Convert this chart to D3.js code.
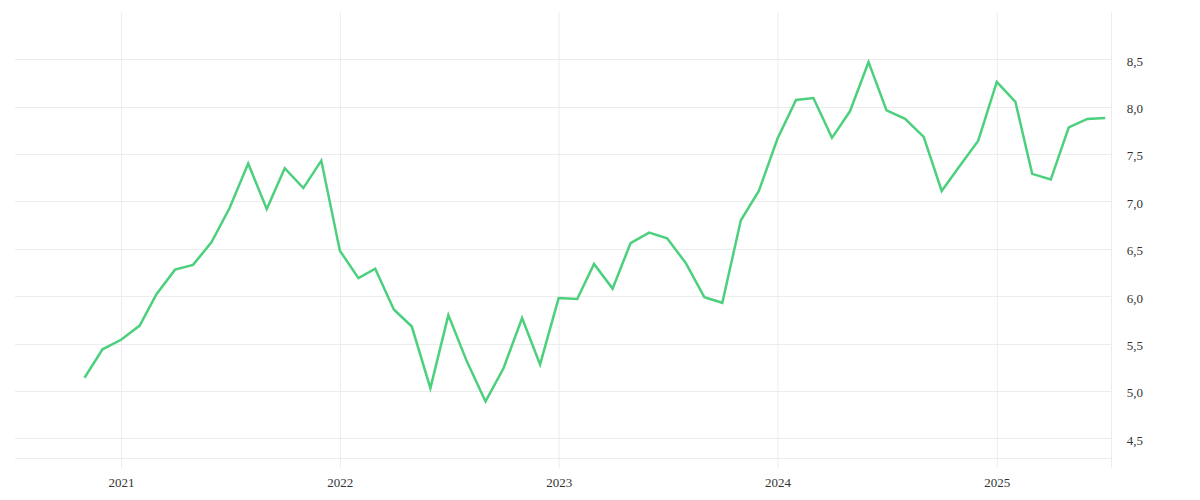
<!DOCTYPE html>
<html><head><meta charset="utf-8">
<script src="https://cdn.jsdelivr.net/npm/d3@7"></script>
<style>html,body{margin:0;padding:0;background:#fff;}svg{display:block;}</style>
</head><body>
<svg id="chart" width="1200" height="500"></svg>
<script>
const startMonth = "2020-11";
const values = [
  5.14, 5.44, 5.54, 5.69, 6.02, 6.28, 6.33, 6.57, 6.93, 7.40, 6.92, 7.35, 7.14, 7.43,
  6.48, 6.19, 6.29, 5.86, 5.68, 5.03, 5.80, 5.31, 4.89, 5.24, 5.77, 5.28,
  5.98, 5.97, 6.34, 6.08, 6.56, 6.67, 6.61, 6.35, 5.99, 5.93, 6.80, 7.11,
  7.66, 8.07, 8.09, 7.67, 7.95, 8.47, 7.96, 7.87, 7.68, 7.11, 7.38, 7.64,
  8.26, 8.05, 7.29, 7.23, 7.78, 7.87, 7.88
];
const yTicks = [4.5, 5.0, 5.5, 6.0, 6.5, 7.0, 7.5, 8.0, 8.5];
const xTickYears = [2021, 2022, 2023, 2024, 2025];
const xDomain = ["2020-07-08", "2025-07-10"];
const yDomain = [4.29, 8.99];

(function () {
const parse = d3.timeParse("%Y-%m");
const t0 = parse(startMonth);
const data = values.map((v, i) => ({date: d3.timeMonth.offset(t0, i), value: v}));

const svg = d3.select("#chart");
const pLeft = 15, pRight = 1110.7, pTop = 12.7, pBottom = 458.3;
const x = d3.scaleTime().domain(xDomain.map(d3.timeParse("%Y-%m-%d"))).range([pLeft, pRight]);
const y = d3.scaleLinear().domain(yDomain).range([pBottom, pTop]);

const grid = "#ececec";
const font = "'Liberation Serif', serif";

svg.append("g").selectAll("line").data(yTicks).join("line")
  .attr("x1", pLeft).attr("x2", pRight)
  .attr("y1", d => Math.round(y(d)) + 0.5).attr("y2", d => Math.round(y(d)) + 0.5)
  .attr("stroke", grid).attr("stroke-width", 1);
svg.append("line").attr("x1", pLeft).attr("x2", pRight)
  .attr("y1", Math.round(pBottom) + 0.5).attr("y2", Math.round(pBottom) + 0.5)
  .attr("stroke", grid);

const xAxis = d3.axisBottom(x)
  .tickValues(xTickYears.map(yr => new Date(yr, 0, 1)))
  .tickFormat(d3.timeFormat("%Y"))
  .tickSizeInner(-(pBottom - pTop) - 10)
  .tickSizeOuter(0)
  .tickPadding(9);
const gx = svg.append("g").attr("transform", `translate(0,${pBottom + 10})`).call(xAxis);
gx.select(".domain").remove();
gx.selectAll(".tick line").attr("stroke", grid);
gx.selectAll(".tick text").attr("fill", "#333").attr("font-family", font).attr("font-size", 13);

svg.append("line").attr("x1", Math.round(pRight) + 0.5).attr("x2", Math.round(pRight) + 0.5)
  .attr("y1", pTop).attr("y2", pBottom + 10).attr("stroke", grid);

const yAxis = d3.axisRight(y).tickValues(yTicks)
  .tickFormat(d => d3.format(".1f")(d).replace(".", ","))
  .tickSize(0).tickPadding(16);
const gy = svg.append("g").attr("transform", `translate(${pRight},0)`).call(yAxis);
gy.select(".domain").remove();
gy.selectAll(".tick text").attr("fill", "#333").attr("font-family", font).attr("font-size", 13).attr("dy", "0.45em");

svg.append("path").datum(data)
  .attr("fill", "none").attr("stroke", "#4cd07d").attr("stroke-width", 2.5)
  .attr("stroke-linejoin", "miter")
  .attr("d", d3.line().x(d => x(d.date)).y(d => y(d.value)));
})();
</script>
</body></html>
